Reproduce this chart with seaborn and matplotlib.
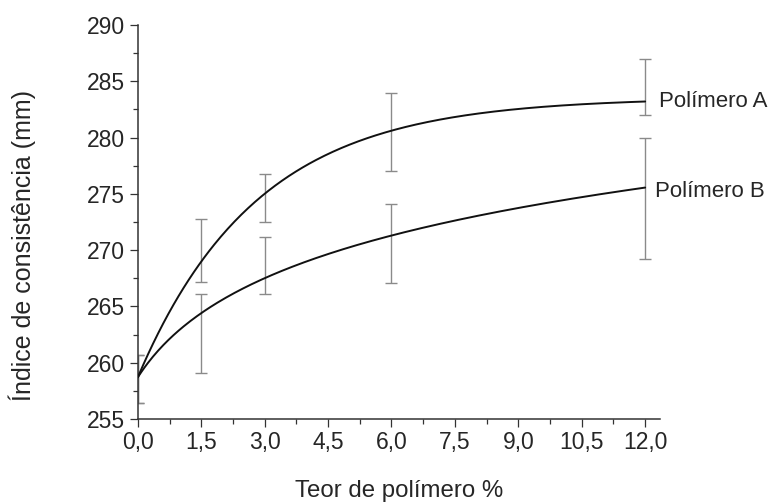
import numpy as np
import matplotlib
matplotlib.use("Agg")
from matplotlib import pyplot as plt
from matplotlib.ticker import MultipleLocator, FuncFormatter
import pandas as pd
import seaborn as sns

# measured points (mean and error bar half-width)
conc = [0.0, 1.5, 3.0, 6.0, 12.0]
poly_a_mean = [258.55, 270.0, 274.65, 280.5, 284.5]
poly_a_err = [2.15, 2.8, 2.15, 3.5, 2.5]
poly_b_mean = [258.55, 262.6, 268.65, 270.6, 274.6]
poly_b_err = [2.15, 3.5, 2.55, 3.5, 5.4]

# fitted trend parameters
fit_a = [258.7, 24.85, 2.81]   # y0 + amp * (1 - exp(-x / tau))
fit_b = [258.7, 7.03, 1.2]     # y0 + amp * ln(1 + x / scale)

labels = ["Polímero A", "Polímero B"]

sns.set_style("ticks")
plt.rcParams['font.family'] = ['Liberation Sans', 'DejaVu Sans']

fig = plt.figure(figsize=(7.69, 5.04), dpi=100)
ax = fig.add_axes([0.1792, 0.1687, 0.679, 0.7817])

xs = np.linspace(0, 12, 300)
curve_a = fit_a[0] + fit_a[1] * (1 - np.exp(-xs / fit_a[2]))
curve_b = fit_b[0] + fit_b[1] * np.log(1 + xs / fit_b[2])
curves = pd.DataFrame({
    'x': np.concatenate([xs, xs]),
    'y': np.concatenate([curve_a, curve_b]),
    'serie': [labels[0]] * len(xs) + [labels[1]] * len(xs),
})

# error bars
for mean, err in [(poly_a_mean, poly_a_err), (poly_b_mean, poly_b_err)]:
    ax.errorbar(conc, mean, yerr=err, fmt='none', ecolor='#8a8a8a',
                elinewidth=1.0, capsize=4, capthick=1.0, zorder=2)

sns.lineplot(data=curves, x='x', y='y', units='serie', estimator=None,
             color='#111111', linewidth=1.4, ax=ax, zorder=3, legend=False)

# curve labels at the right end
ax.annotate(labels[0], (12, curve_a[-1]), xytext=(10, 0), textcoords='offset points',
            ha='left', va='center', fontsize=16)
ax.annotate(labels[1], (12, curve_b[-1]), xytext=(7, -3), textcoords='offset points',
            ha='left', va='center', fontsize=16)

ax.set_xlim(0, 12.35)
ax.set_ylim(255, 290)
ax.xaxis.set_major_locator(MultipleLocator(1.5))
ax.xaxis.set_minor_locator(MultipleLocator(0.75))
ax.yaxis.set_major_locator(MultipleLocator(5))
ax.yaxis.set_minor_locator(MultipleLocator(2.5))
ax.xaxis.set_major_formatter(FuncFormatter(lambda v, p: f"{v:.1f}".replace('.', ',')))
ax.set_xticks([t for t in np.arange(0, 12.01, 1.5)])

ax.tick_params(which='major', direction='out', length=6, width=0.9, labelsize=16.5, pad=3, color='#333333')
ax.tick_params(which='minor', direction='out', length=3.5, width=0.9, color='#333333')
for s in ['left', 'bottom']:
    ax.spines[s].set_linewidth(1.1)
    ax.spines[s].set_color('#333333')
sns.despine(ax=ax)

ax.set_xlabel("Teor de polímero %", fontsize=17.3)
ax.set_ylabel("Índice de consistência (mm)", fontsize=18)
ax.xaxis.set_label_coords(0.5, -0.155)
ax.yaxis.set_label_coords(-0.195, 0.44)

fig.savefig("out.png", dpi=100)
